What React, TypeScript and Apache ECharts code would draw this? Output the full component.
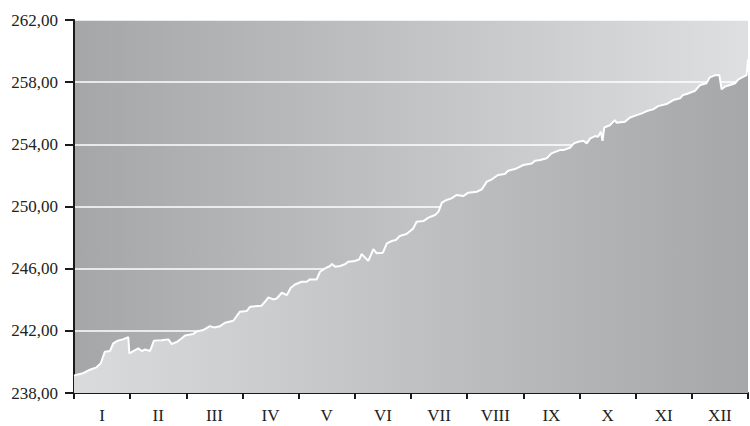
import React, { useEffect, useRef } from "react";
import * as echarts from "echarts";

const months = ["I", "II", "III", "IV", "V", "VI", "VII", "VIII", "IX", "X", "XI", "XII"];

// position along the year, in months (0 = start of I, 12 = end of XII)
const positions = [
  0.0, 0.036, 0.16, 0.285, 0.4, 0.475, 0.55, 0.64, 0.7, 0.78, 0.87, 0.967, 0.985,
  1.056, 1.145, 1.205, 1.264, 1.353, 1.424, 1.56, 1.68, 1.74, 1.83, 1.92, 1.976,
  2.124, 2.184, 2.3, 2.42, 2.49, 2.6, 2.69, 2.836, 2.955,
  3.075, 3.133, 3.34, 3.4, 3.46, 3.55, 3.61, 3.7, 3.79, 3.86, 3.934,
  4.054, 4.143, 4.2, 4.32, 4.38, 4.47, 4.56, 4.59, 4.65, 4.74, 4.824, 4.883,
  5.0, 5.08, 5.12, 5.24, 5.33, 5.39, 5.5, 5.57, 5.66, 5.73, 5.8, 5.92,
  6.04, 6.1, 6.22, 6.31, 6.43, 6.49, 6.55, 6.635, 6.72, 6.81, 6.93,
  7.02, 7.17, 7.26, 7.35, 7.44, 7.55, 7.67, 7.73, 7.88,
  8.0, 8.15, 8.21, 8.3, 8.415, 8.5, 8.65, 8.71, 8.83, 8.9, 8.98,
  9.07, 9.13, 9.19, 9.28, 9.33, 9.38, 9.41, 9.44, 9.54, 9.63, 9.66, 9.81, 9.9,
  10.02, 10.11, 10.2, 10.31, 10.4, 10.55, 10.67, 10.79, 10.84, 10.91,
  11.06, 11.15, 11.26, 11.32, 11.41, 11.49, 11.53, 11.59, 11.68, 11.77, 11.83, 11.92, 11.975, 12.0,
];

const values = [
  239.12, 239.16, 239.27, 239.5, 239.65, 239.9, 240.66, 240.7, 241.2, 241.37, 241.45, 241.6, 240.55,
  240.7, 240.87, 240.7, 240.8, 240.7, 241.37, 241.4, 241.45, 241.15, 241.28, 241.52, 241.7,
  241.8, 241.95, 242.05, 242.3, 242.22, 242.3, 242.52, 242.65, 243.23,
  243.27, 243.55, 243.62, 243.87, 244.15, 244.02, 244.08, 244.45, 244.3, 244.77, 244.98,
  245.16, 245.16, 245.31, 245.31, 245.8, 246.02, 246.17, 246.3, 246.13, 246.17, 246.28, 246.45,
  246.49, 246.6, 246.94, 246.5, 247.25, 246.99, 247.03, 247.63, 247.78, 247.84, 248.1, 248.23,
  248.59, 249.02, 249.06, 249.28, 249.45, 249.67, 250.25, 250.42, 250.52, 250.74, 250.67,
  250.89, 250.95, 251.1, 251.6, 251.75, 252.03, 252.09, 252.3, 252.45,
  252.67, 252.77, 252.95, 252.99, 253.1, 253.42, 253.63, 253.63, 253.78, 254.06, 254.17,
  254.23, 254.06, 254.38, 254.53, 254.49, 254.81, 254.23, 255.08, 255.23, 255.56, 255.39, 255.46, 255.73,
  255.88, 255.99, 256.14, 256.25, 256.46, 256.59, 256.85, 256.96, 257.17, 257.24,
  257.45, 257.82, 257.93, 258.31, 258.44, 258.46, 257.54, 257.71, 257.82, 257.93, 258.18, 258.35, 258.46, 259.47,
];

const yMin = 238;
const yMax = 262;
const yStep = 4;

export default function App() {
  const ref = useRef<HTMLDivElement>(null);

  useEffect(() => {
    if (!ref.current) return;
    const chart = echarts.init(ref.current, null, { renderer: "svg" });
    const font = "'Liberation Serif', 'Times New Roman', serif";
    chart.setOption({
      animation: false,
      backgroundColor: "#ffffff",
      grid: {
        left: 74,
        right: 2,
        top: 20,
        bottom: 33,
        show: true,
        borderWidth: 0,
        backgroundColor: new echarts.graphic.LinearGradient(0, 0, 1, 0, [
          { offset: 0, color: "#a5a6a8" },
          { offset: 1, color: "#dedfe1" },
        ]),
      },
      xAxis: [
        {
          type: "category",
          data: months,
          boundaryGap: true,
          axisLine: { show: true, lineStyle: { color: "#1a1a1a", width: 2 } },
          axisTick: { show: true, alignWithLabel: false, length: 6, lineStyle: { color: "#1a1a1a", width: 2 } },
          axisLabel: { color: "#222", fontFamily: font, fontSize: 17, margin: 14 },
          splitLine: { show: false },
        },
        {
          type: "value",
          min: 0,
          max: 12,
          show: false,
          splitLine: { show: false },
        },
      ],
      yAxis: {
        type: "value",
        min: yMin,
        max: yMax,
        interval: yStep,
        axisLine: { show: true, lineStyle: { color: "#1a1a1a", width: 2 } },
        axisTick: { show: true, length: 9, lineStyle: { color: "#1a1a1a", width: 2 } },
        axisLabel: {
          color: "#222",
          fontFamily: font,
          fontSize: 17,
          margin: 16,
          formatter: (v: number) => v.toFixed(2).replace(".", ","),
        },
        splitLine: { show: true, lineStyle: { color: "#ffffff", width: 1.5 } },
      },
      series: [
        {
          type: "line",
          xAxisIndex: 1,
          data: positions.map((p, i) => [p, values[i]]),
          symbol: "none",
          lineStyle: { color: "#ffffff", width: 2 },
          areaStyle: {
            origin: "start",
            opacity: 1,
            color: new echarts.graphic.LinearGradient(0, 0, 1, 0, [
              { offset: 0, color: "#dadbdd" },
              { offset: 1, color: "#a6a7a9" },
            ]),
          },
          z: 3,
        },
      ],
    });
    return () => chart.dispose();
  }, []);

  return <div ref={ref} style={{ width: 750, height: 426, position: "absolute", left: 0, top: 0 }} />;
}
